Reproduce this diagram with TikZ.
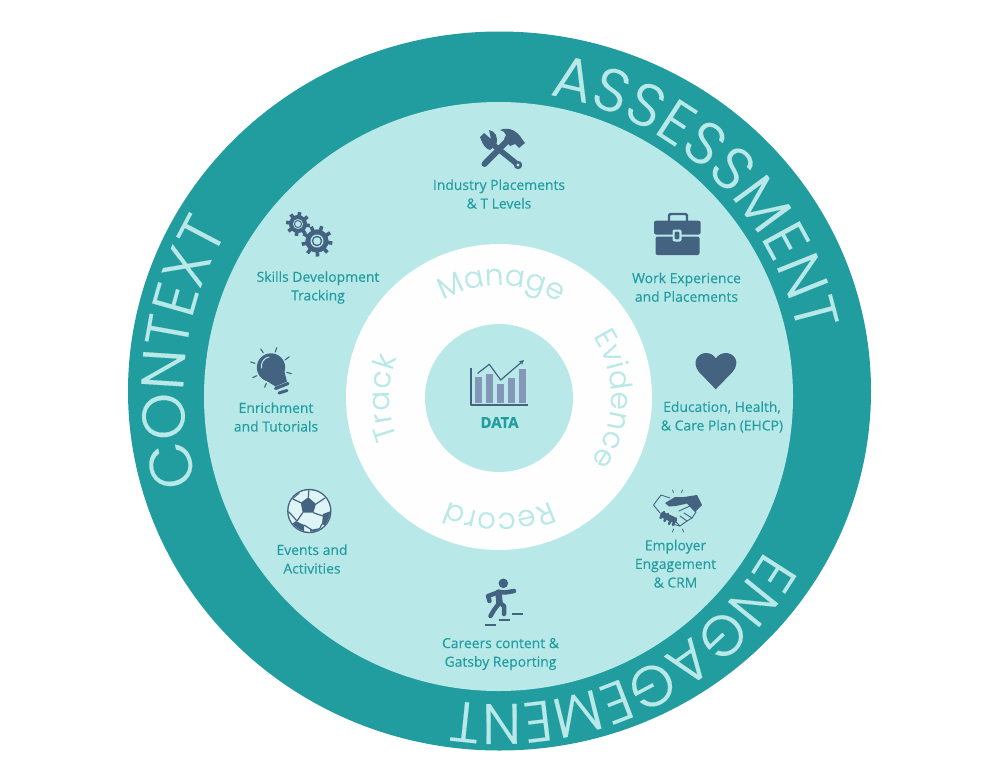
\documentclass[tikz,border=0pt]{standalone}
\usepackage{fontspec}
\usetikzlibrary{decorations.text}
\newfontfamily\ringfont[FakeBold=0.25]{Poppins Light}
\newfontfamily\itemfont[FakeBold=0.12]{Open Sans}
\definecolor{ringteal}{HTML}{219C9F}
\definecolor{ringlight}{HTML}{B8E9E8}
\definecolor{icondark}{HTML}{446380}
\definecolor{barblue}{HTML}{8497B9}
\tikzset{
	itemlabel/.style={align=center, text=ringteal, font=\itemfont\fontsize{13.9}{18.6}\selectfont, inner sep=0pt},
	iconline/.style={draw=icondark, line cap=round, line join=round},
	iconfill/.style={fill=icondark},
	outerword/.style 2 args={decorate, decoration={text along path, text align={fit to path}, text color=ringlight, text={|\ringfont\fontsize{#1}{#1}\selectfont|#2}}},
	innerword/.style={decorate, decoration={text along path, text align={fit to path}, text color=ringlight, text={|\ringfont\fontsize{29.5}{29.5}\selectfont|#1}}}
}

\begin{document}
\begin{tikzpicture}[x=1pt, y=-1pt]
	\useasboundingbox (0,0) rectangle (1000,779) ;
	\fill [white] (0,0) rectangle (1000,779) ;

	\fill [ringteal] (499.5,391) ellipse [x radius=371.5, y radius=359.5] ;
	\fill [ringlight] (498.5,396.5) circle [radius=294.5] ;
	\fill [white!99!gray] (499,397) circle [radius=153] ;
	\fill [ringlight] (499,398) circle [radius=74] ;

	\path [outerword={60}{ASSESSMENT}] (499,397) ++(-80.5:306) arc (-80.5:-12:306) ;
	\path [outerword={57}{ENGAGEMENT}] (499,397) ++(30:307) arc (30:98:307) ;
	\path [outerword={60}{CONTEXT}] (499.5,391) ++(163:316) arc (163:209:316) ;

	\path [innerword=Manage] (499,397) ++(-120:112) arc (-120:-59.5:112) ;
	\path [innerword=Evidence] (499,397) ++(-33:112) arc (-33:35:112) ;
	\path [innerword=Record] (499,397) ++(64:116) arc (64:116:116) ;
	\path [innerword=Track] (499,397) ++(158.5:110) arc (158.5:201:110) ;

	\draw (499,194) node[itemlabel] (industry) {Industry Placements\\\& T Levels} ;
	\draw (318,287.5) node[itemlabel] (skills) {Skills Development\\Tracking} ;
	\draw (686.5,287.2) node[itemlabel] (work) {Work Experience\\and Placements} ;
	\draw (276,417) node[itemlabel] (enrichment) {Enrichment\\and Tutorials} ;
	\draw (722,417) node[itemlabel] (ehcp) {Education, Health,\\\& Care Plan (EHCP)} ;
	\draw (312,559) node[itemlabel] (events) {Events and\\Activities} ;
	\draw (675.5,563.7) node[itemlabel] (employer) {Employer\\Engagement\\\& CRM} ;
	\draw (500.5,654) node[itemlabel] (careers) {Careers content \&\\Gatsby Reporting} ;
	\draw (499.5,422.5) node[text=ringteal, inner sep=0pt, font=\itemfont\bfseries\fontsize{15}{15}\selectfont] (data) {DATA} ;

	\draw [iconline, line width=6pt] (484.5,164) -- (512,136) ;
	\fill [iconfill] (500,130) .. controls (510,126) and (518,132) .. (522,139) -- (525,143) -- (519,148) -- (515,144) -- (510,146) -- (504,139) -- (506,135) .. controls (505,132) and (503,131) .. (500,130) -- cycle ;
	\draw [iconline, line width=5.5pt] (491,143) -- (517,164) ;
	\fill [iconfill] (480,137) -- (484,133) -- (491,139) -- (489,130) .. controls (495,131) and (499,137) .. (496,145) -- (490,150) .. controls (485,149) and (482,143) .. (480,137) -- cycle ;
	\fill [iconfill] (518,165) circle [radius=4.2] ;
	\fill [ringlight] (518,165) circle [radius=1.6] ;

	\draw [iconline, line width=2.4pt] (669,221) -- (669,216) .. controls (669,214.5) and (670,214) .. (671,214) -- (685,214) .. controls (686,214) and (687,214.5) .. (687,216) -- (687,221) ;
	\fill [iconfill, rounded corners=2pt] (654,220.7) rectangle (700.6,234.5) ;
	\fill [iconfill, rounded corners=2pt] (655.5,236.5) rectangle (699.5,255) ;
	\fill [ringlight, rounded corners=2pt] (672.5,229.5) rectangle (681.5,241.5) ;
	\fill [iconfill, rounded corners=1pt] (674.7,231.7) rectangle (679.3,239.3) ;

	\foreach \gx/\gy/\gr/\gn in {298/224/12/8, 317/241/15.5/9} {
		\fill [iconfill] (\gx,\gy) circle [radius=0.74*\gr] ;
		\foreach \tooth in {1,...,\gn}
			\draw [draw=icondark, line width=3.6pt] (\gx,\gy) -- ++({\tooth*360/\gn+8}:\gr) ;
		\fill [iconfill] (\gx,\gy) circle [radius=0.74*\gr] ;
		\fill [ringlight] (\gx,\gy) circle [radius=0.42*\gr] ;
		\fill [iconfill] (\gx,\gy) circle [radius=0.34*\gr] ;
		\fill [ringlight] (\gx,\gy) circle [radius=0.24*\gr] ;
	}

	\fill [iconfill] (271,367.5) circle [radius=14.2] ;
	\fill [iconfill] (262,378) -- (275.5,386.5) -- (287,381.5) -- (284.5,372) -- cycle ;
	\draw [iconline, line width=3.2pt] (275.5,388.5) -- (288,383.5) ;
	\draw [iconline, line width=3pt] (279,393) -- (287,390.5) ;
	\draw [draw=ringlight, line width=1pt, line cap=round] (261.5,368) .. controls (261,362) and (264,358) .. (269,357) ;
	\foreach \rx/\ry/\sx/\sy in {260.7/349/263.3/352.7, 276.7/347.7/275.3/352, 289.3/356.7/285/360, 291.3/373.7/286.7/372.3, 252.7/377.7/256.7/375.7, 264.7/387.3/266.3/383.3, 250.7/362/255/363.3}
		\draw [iconline, line width=1.1pt] (\rx,\ry) -- (\sx,\sy) ;

	\fill [iconfill] (715.7,389.3) -- (699,372) .. controls (691,362) and (698,353) .. (706,353) .. controls (710,353) and (714,355) .. (715.7,358.5) .. controls (718,355) and (722,353) .. (726,353) .. controls (734,353) and (741,362) .. (732.5,372) -- cycle ;

	\draw [iconline, line width=0.9pt] (653.5,505) -- (661,495) -- (670,498) (679,511) -- (690,506) -- (696,512) -- (692,518) -- (687,521) -- (680,526) -- (672,524) (653.5,505) -- (660,513) ;
	\draw [iconline, line width=0.9pt] (692,518) -- (684,513) (687,521) -- (680,516) (680,526) -- (675,521) ;
	\fill [iconfill] (665,503) -- (675,497) -- (684,497) -- (697,495) -- (702,505) -- (695,512) -- (687,503.5) -- (676,506) -- (669,506.5) -- cycle ;
	\draw [iconline, line width=6pt] (663,515) -- (674,520) ;
	\draw [iconline, line width=2.5pt] (660.5,518) -- (664,512) (664.5,521) -- (668,514) (669,524) -- (672,517) (673,525) -- (676,518.5) ;
	\foreach \rx/\ry/\sx/\sy in {672.5/490/673.5/492.5, 682.5/490/681.5/492.5, 673.5/529/672.5/532, 682.5/529/683.5/532}
		\draw [iconline, line width=0.8pt] (\rx,\ry) -- (\sx,\sy) ;

	\fill [iconfill] (309.3,511) circle [radius=22.2] ;
	\begin{scope}
		\clip (309.3,511) circle [radius=20.8] ;
		\fill [ringlight!45!white] (288,489) rectangle (331,533) ;
		\fill [iconfill] (308.3,497.3) -- (316,504) -- (313.3,512.7) -- (302.7,512.7) -- (300.7,502.7) -- cycle ;
		\fill [iconfill] (293,499) -- (300,493) -- (296,489) -- (288,495) -- cycle ;
		\fill [iconfill] (318,491) -- (325,495) -- (328,490) -- (320,486) -- cycle ;
		\fill [iconfill] (323,514) -- (331,511) -- (334,520) -- (329,528) -- (322,524) -- cycle ;
		\fill [iconfill] (296,521) -- (304,525) -- (304,534) -- (294,535) -- (289,526) -- cycle ;
		\fill [iconfill] (284,508) -- (289,512) -- (288,519) -- (283,519) -- cycle ;
		\fill [iconfill] (310,530) -- (320,528) -- (322,535) -- (310,536) -- cycle ;
		\draw [iconline, line width=1.2pt] (308.3,497.3) -- (309,488) (316,504) -- (325,498) (313.3,512.7) -- (323,516) (302.7,512.7) -- (297,521) (300.7,502.7) -- (293,499) (289,512) -- (297,521) (304,525) -- (312,530) (322,524) -- (320,528) ;
	\end{scope}

	\fill [iconfill] (503.3,583.3) circle [radius=4.8] ;
	\draw [iconline, line width=4.5pt] (499,592) -- (505,592.5) -- (514,591) ;
	\draw [iconline, line width=4.5pt] (499,592) -- (488,596) -- (489.5,601) ;
	\draw [iconline, line width=6.5pt] (498.5,592.5) -- (499.5,603) ;
	\draw [iconline, line width=4.5pt] (500,603) -- (504,606) -- (504,614) ;
	\draw [iconline, line width=4.5pt] (498.5,604) -- (494,610) -- (490.5,616) ;
	\draw [iconline, line width=1.8pt, line cap=butt] (512,614) -- (523,614) (498.5,620) -- (510,620) (485,625.3) -- (496,625.3) ;

	\draw [iconline, line width=1.2pt, line cap=butt] (471,368) -- (471,405) -- (527.7,405) ;
	\foreach \bl/\bt/\br in {475/377.3/482.3, 486/374/493.3, 497/384.3/504.3, 508/378.3/515.3, 519/369/526}
		\fill [barblue] (\bl,\bt) rectangle (\br,402.7) ;
	\draw [iconline, line width=1.2pt, -stealth] (477.7,373.3) -- (489.3,364.3) -- (500.7,380) -- (524,360) ;
\end{tikzpicture}
\end{document}
